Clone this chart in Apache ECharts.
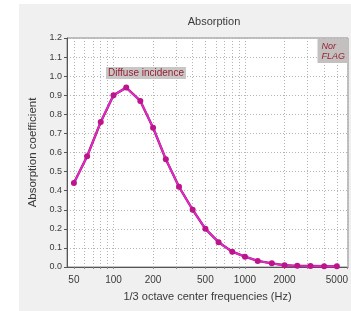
<!DOCTYPE html>
<html>
<head>
<meta charset="utf-8">
<script src="https://cdn.jsdelivr.net/npm/echarts@6/dist/echarts.min.js"></script>
<style>
html,body{margin:0;padding:0;background:#fff;}
#chart{width:351px;height:311px;}
</style>
</head>
<body>
<div id="chart"></div>
<script>
// ---- data ----
const frequencies = [50, 63, 80, 100, 125, 160, 200, 250, 315, 400, 500, 630, 800, 1000, 1250, 1600, 2000, 2500, 3150, 4000, 5000];
const absorption = [0.44, 0.58, 0.76, 0.90, 0.94, 0.87, 0.73, 0.565, 0.42, 0.30, 0.20, 0.13, 0.08, 0.054, 0.032, 0.019, 0.009, 0.006, 0.005, 0.004, 0.004];
const xTickLabels = [50, 100, 200, 500, 1000, 2000, 5000];
const xGridFreqs = [50, 60, 70, 80, 90, 100, 200, 300, 400, 500, 600, 700, 800, 900, 1000, 2000, 3000, 4000, 5000, 6000];
const xMinFreq = 44.3;
const xMaxFreq = 6076;

const lg = v => Math.log10(v);
const seriesData = frequencies.map((f, i) => [lg(f), absorption[i]]);
const FONT = '"Liberation Sans", Arial, sans-serif';
const TXT = '#3a3a3a';

const chart = echarts.init(document.getElementById('chart'), null, {renderer: 'canvas'});
chart.setOption({
  animation: false,
  backgroundColor: '#ffffff',
  graphic: [{
    type: 'rect', z: -10, silent: true,
    shape: {x: 19, y: 4, width: 340, height: 310},
    style: {fill: '#f0f0f0'}
  }],
  title: [
    {text: 'Absorption', left: 209, top: 11, textAlign: 'center',
     textStyle: {fontFamily: FONT, fontSize: 11, fontWeight: 'normal', color: TXT}},
    {text: 'Diffuse incidence', left: 106, top: 67, padding: [1, 2, 1, 2],
     backgroundColor: '#c9c6c6',
     textStyle: {fontFamily: FONT, fontSize: 10, fontWeight: 'normal', color: '#952034'}},
    {text: 'Nor\nFLAG', right: 3, top: 39, padding: [2, 3, 2, 4],
     backgroundColor: '#c4c0c0',
     textStyle: {fontFamily: FONT, fontSize: 9, fontStyle: 'italic', fontWeight: 'normal', color: '#952034', align: 'right', lineHeight: 10}}
  ],
  grid: {left: 67, right: 0, top: 38, bottom: 44, show: true, backgroundColor: '#ffffff', borderColor: '#8a8a8a', borderWidth: 1},
  xAxis: {
    type: 'value',
    min: lg(xMinFreq), max: lg(xMaxFreq),
    name: '1/3 octave center frequencies (Hz)',
    nameLocation: 'middle', nameGap: 24,
    nameTextStyle: {fontFamily: FONT, fontSize: 11, color: TXT},
    axisLine: {show: true, onZero: false, lineStyle: {color: '#555', width: 1}},
    axisTick: {show: true, length: 2, customValues: xGridFreqs.map(lg), lineStyle: {color: '#888'}},
    axisLabel: {customValues: xTickLabels.map(lg), margin: 8,
      fontFamily: FONT, fontSize: 10, color: TXT,
      formatter: v => String(Math.round(Math.pow(10, v)))},
    splitLine: {show: true, lineStyle: {color: '#b4b4b4', type: [1, 2], width: 1}}
  },
  yAxis: {
    type: 'value', min: 0, max: 1.2, interval: 0.1,
    name: 'Absorption coefficient',
    nameLocation: 'middle', nameGap: 27,
    nameTextStyle: {fontFamily: FONT, fontSize: 11.5, color: TXT},
    axisLine: {show: true, lineStyle: {color: '#555', width: 1}},
    axisTick: {show: true, length: 3, lineStyle: {color: '#555'}},
    axisLabel: {margin: 5, fontFamily: FONT, fontSize: 9, color: TXT,
      formatter: v => v.toFixed(1)},
    splitLine: {show: true, lineStyle: {color: '#b4b4b4', type: [1, 2], width: 1}}
  },
  series: [
    {type: 'line', data: seriesData, showSymbol: false, z: 2,
     lineStyle: {color: '#8a1a3a', width: 2.4}},
    {type: 'line', data: seriesData, symbol: 'circle', symbolSize: 6, z: 3,
     lineStyle: {color: '#e526d6', width: 1.8},
     itemStyle: {color: '#bb148c'}}
  ]
});
</script>
</body>
</html>
